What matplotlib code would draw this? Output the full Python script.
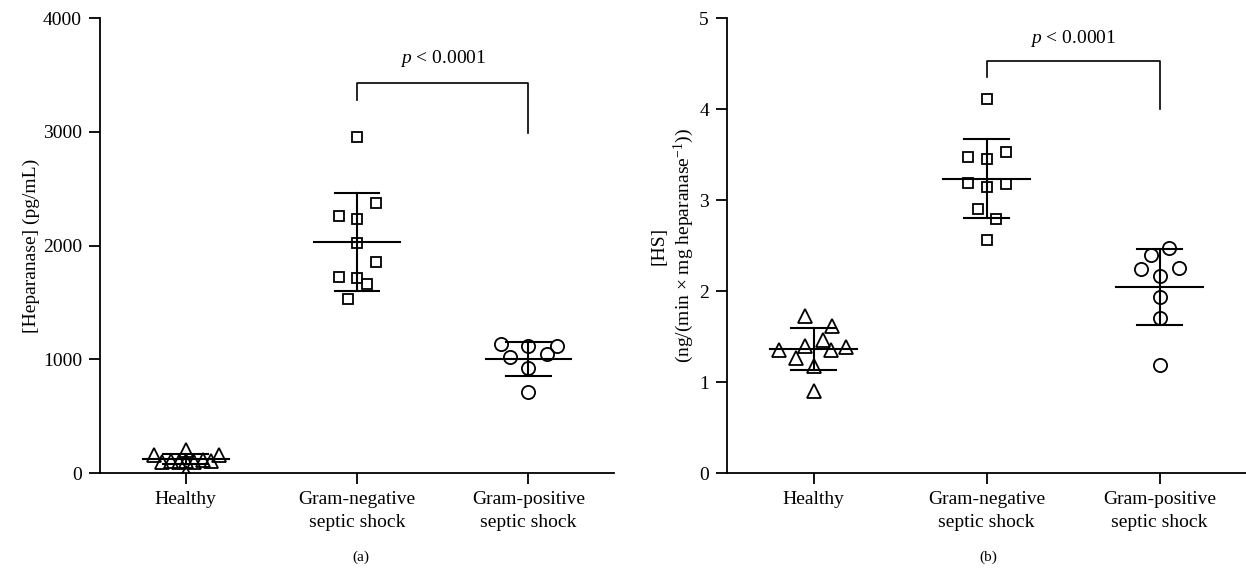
import numpy as np
import matplotlib
matplotlib.use("Agg")
import matplotlib.pyplot as plt

plt.rcParams['font.family'] = ['Liberation Serif', 'DejaVu Serif']
plt.rcParams['mathtext.fontset'] = 'custom'
plt.rcParams['mathtext.it'] = 'Liberation Serif:italic'
plt.rcParams['mathtext.rm'] = 'Liberation Serif'

groups = ['Healthy', 'Gram-negative\nseptic shock', 'Gram-positive\nseptic shock']

# panel (a): heparanase, pg/mL
hep_healthy = [158, 202, 158, 100, 105, 100, 102, 100, 114, 110, 0]
hep_gneg = [2957, 2376, 2259, 2233, 2025, 1855, 1726, 1711, 1661, 1527]
hep_gpos = [1131, 1119, 1119, 1017, 1044, 926, 715]
hep_mean = [120, 2030, 1005]
hep_sd = [45, 434, 150]

# panel (b): HS
hs_healthy = [1.725, 1.619, 1.462, 1.352, 1.396, 1.352, 1.388, 1.26, 1.176, 0.901]
hs_gneg = [4.107, 3.531, 3.469, 3.451, 3.183, 3.147, 3.176, 2.897, 2.788, 2.56]
hs_gpos = [2.469, 2.396, 2.242, 2.256, 2.168, 1.937, 1.707, 1.187]
hs_mean = [1.366, 3.234, 2.044]
hs_sd = [0.23, 0.437, 0.42]

# horizontal spread of the points inside each column
jit_a = [[-0.185, 0, 0.195, -0.136, -0.088, -0.039, 0.0, 0.049, 0.098, 0.15, 0],
         [0, 0.11, -0.107, 0, 0, 0.11, -0.107, 0, 0.057, -0.054],
         [-0.162, 0, 0.165, -0.107, 0.11, 0, 0]]
jit_b = [[-0.052, 0.105, 0.053, -0.197, -0.052, 0.1, 0.19, -0.1, 0, 0],
         [0, 0.11, -0.108, 0, -0.108, 0, 0.11, -0.05, 0.055, 0],
         [0.054, -0.052, -0.106, 0.11, 0, 0, 0, 0]]

markers = ['^', 's', 'o']
msizes = [10, 7.5, 9.5]


def panel(ax, data, jit, means, sds, ylim, yticks):
    for i, vals in enumerate(data):
        x = i + np.array(jit[i])
        ax.plot(x, vals, linestyle='none', marker=markers[i], ms=msizes[i],
                mfc='none', mec='black', mew=1.3, zorder=3)
        m, s = means[i], sds[i]
        ax.plot([i - 0.25, i + 0.25], [m, m], color='black', lw=1.5, zorder=4)
        ax.plot([i, i], [m - s, m + s], color='black', lw=1.5, zorder=4)
        ax.plot([i - 0.13, i + 0.13], [m + s, m + s], color='black', lw=1.5, zorder=4)
        ax.plot([i - 0.13, i + 0.13], [m - s, m - s], color='black', lw=1.5, zorder=4)
    ax.set_xlim(-0.5, 2.5)
    ax.set_ylim(*ylim)
    ax.set_yticks(yticks)
    ax.set_xticks([0, 1, 2])
    ax.set_xticklabels(groups, fontsize=14, linespacing=1.45)
    ax.tick_params(axis='y', labelsize=14, length=8, width=1.3, direction='out', pad=5)
    ax.tick_params(axis='x', length=8, width=1.3, direction='out', pad=5)
    for side in ['top', 'right']:
        ax.spines[side].set_visible(False)
    for side in ['left', 'bottom']:
        ax.spines[side].set_linewidth(1.3)


def bracket(ax, y_top, y_left, y_right, y_text):
    ax.plot([1, 1, 2, 2], [y_left, y_top, y_top, y_right], color='black', lw=1.2,
            clip_on=False)
    ax.text(1.5, y_text, r'$p$ < 0.0001', ha='center', va='center', fontsize=14)


fig = plt.figure(figsize=(12.46, 5.77), dpi=100)
ax1 = fig.add_axes([0.0803, 0.1802, 0.4125, 0.7886])
ax2 = fig.add_axes([0.5835, 0.1802, 0.4165, 0.7886])

panel(ax1, [hep_healthy, hep_gneg, hep_gpos], jit_a, hep_mean, hep_sd,
      (0, 4000), [0, 1000, 2000, 3000, 4000])
bracket(ax1, 3426, 3279, 2986, 3648)
ax1.set_ylabel('[Heparanase] (pg/mL)', fontsize=14, labelpad=2)

panel(ax2, [hs_healthy, hs_gneg, hs_gpos], jit_b, hs_mean, hs_sd,
      (0, 5), [0, 1, 2, 3, 4, 5])
bracket(ax2, 4.531, 4.355, 3.997, 4.777)
ax2.set_ylabel('[HS]\n(ng/(min \u00d7 mg heparanase$^{-1}$))', fontsize=14,
               labelpad=2, linespacing=1.25)

fig.text(361 / 1246, 1 - 557 / 577, '(a)', ha='center', va='center', fontsize=11)
fig.text(988 / 1246, 1 - 557 / 577, '(b)', ha='center', va='center', fontsize=11)

fig.savefig('out.png', dpi=100)
